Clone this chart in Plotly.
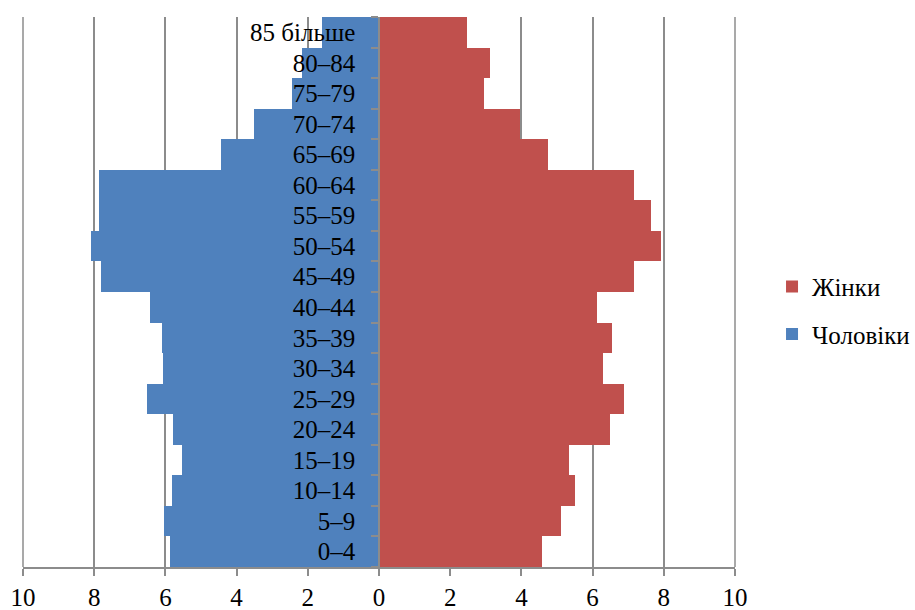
import plotly.graph_objects as go

categories = ["0–4", "5–9", "10–14", "15–19", "20–24", "25–29", "30–34", "35–39",
              "40–44", "45–49", "50–54", "55–59", "60–64", "65–69", "70–74",
              "75–79", "80–84", "85 більше"]
men = [5.86, 6.05, 5.82, 5.53, 5.80, 6.51, 6.06, 6.09, 6.43, 7.82, 8.10, 7.86,
       7.86, 4.45, 3.52, 2.44, 2.17, 1.61]
women = [4.57, 5.12, 5.51, 5.35, 6.50, 6.89, 6.30, 6.54, 6.11, 7.16, 7.93, 7.63,
         7.16, 4.75, 3.97, 2.94, 3.13, 2.47]
tick_vals = [-10, -8, -6, -4, -2, 0, 2, 4, 6, 8, 10]
tick_text = ["10", "8", "6", "4", "2", "0", "2", "4", "6", "8", "10"]

FONT = "Liberation Serif, Times New Roman, serif"
FS = 25
GRID = "#8c8c8c"

fig = go.Figure()
fig.add_trace(go.Bar(
    y=categories, x=women, orientation="h", name="Жінки",
    marker=dict(color="#C0504D", line=dict(width=0)), legendgroup="w",
))
fig.add_trace(go.Bar(
    y=categories, x=[-v for v in men], orientation="h", name="Чоловіки",
    marker=dict(color="#4F81BD", line=dict(width=0)), legendgroup="m",
))

# gridlines at the two range ends (plotly skips grid lines at the plot edges)
for xp in (0, 1):
    fig.add_shape(type="line", xref="paper", yref="paper", x0=xp, x1=xp, y0=0, y1=1,
                  line=dict(color=GRID, width=1.5), layer="below")

fig.update_layout(
    width=915, height=610,
    margin=dict(l=23, r=180, t=17, b=43, autoexpand=False),
    paper_bgcolor="white", plot_bgcolor="white",
    barmode="relative", bargap=0,
    font=dict(family=FONT, size=FS, color="black"),
    xaxis=dict(
        range=[tick_vals[0], tick_vals[-1]], tickvals=tick_vals, ticktext=tick_text,
        showgrid=True, gridcolor=GRID, gridwidth=1.5,
        zeroline=False, showline=True, linecolor=GRID, linewidth=1.5,
        ticks="outside", ticklen=7, tickcolor=GRID, tickwidth=1.5,
        tickfont=dict(family=FONT, size=FS, color="black"),
        automargin=False,
    ),
    yaxis=dict(
        type="category", categoryorder="array", categoryarray=categories,
        anchor="free", position=0.5,
        showgrid=False, zeroline=False,
        showline=True, linecolor=GRID, linewidth=1.5,
        ticks="outside", tickson="boundaries", ticklen=7, tickcolor=GRID, tickwidth=1.5,
        ticklabelstandoff=18,
        tickfont=dict(family=FONT, size=FS, color="black"),
        layer="above traces", automargin=False,
    ),
    legend=dict(
        x=1.052, y=0.467, xanchor="left", yanchor="middle",
        font=dict(family=FONT, size=FS, color="black"),
        tracegroupgap=12, traceorder="grouped",
        itemwidth=30,
    ),
)

fig.write_html("out.html", config={"displayModeBar": False},
               post_script="document.body.style.margin='0';")
